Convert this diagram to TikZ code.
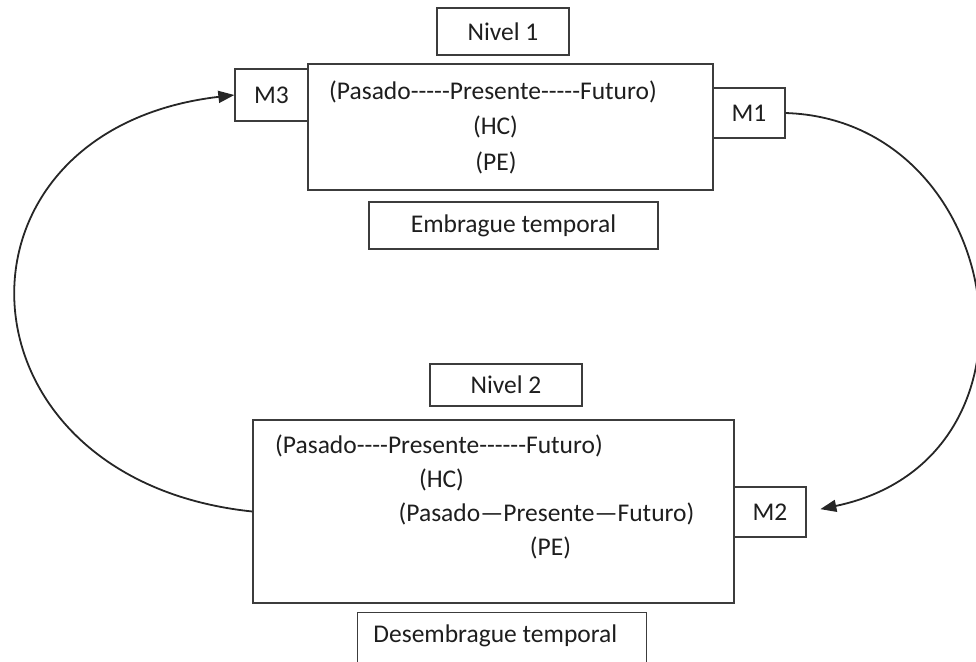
\documentclass[tikz,border=0pt]{standalone}
\usepackage{fontspec}
\setmainfont{Carlito}[Ligatures=TeXOff]
\usetikzlibrary{arrows.meta}
\definecolor{lnegray}{RGB}{60,60,60}
\definecolor{txtgray}{RGB}{30,30,30}

\begin{document}
\begin{tikzpicture}[
  x=0.5pt, y=-0.5pt,
  box/.style={draw=lnegray, line width=0.65pt, inner sep=0pt, align=center,
              font=\fontsize{12.75}{16}\selectfont, text=txtgray},
  txt/.style={inner sep=0pt, font=\fontsize{12.75}{16}\selectfont, text=txtgray},
  arr/.style={-{Triangle[length=8pt, width=6pt]}, line width=0.9pt, color=black!85}
]
  \useasboundingbox (0,0) rectangle (976,661);

  % Nivel 1
  \node[box, minimum width=66pt, minimum height=23.5pt] (niv1) at (503,31.5) {Nivel 1};
  \node[box, minimum width=202.5pt, minimum height=63pt] (lvl1) at (510.5,127) {};
  \node[box, minimum width=36.5pt, minimum height=26pt] (m3) at (271.5,95) {M3};
  \node[box, minimum width=36pt, minimum height=25pt] (m1) at (749,113) {M1};
  \node[box, minimum width=144.5pt, minimum height=23.5pt] (emb) at (513.5,225.5) {Embrague temporal};
  \node[txt] (l1a) at (493,92) {(Pasado-----Presente-----Futuro)};
  \node[txt] (l1b) at (495.5,127) {(HC)};
  \node[txt] (l1c) at (496,163) {(PE)};

  % Nivel 2
  \node[box, minimum width=76pt, minimum height=21pt] (niv2) at (506,385) {Nivel 2};
  \node[box, minimum width=240.5pt, minimum height=91.5pt] (lvl2) at (493.5,511.5) {};
  \node[box, minimum width=36pt, minimum height=25pt] (m2) at (770,512) {M2};
  \node[box, minimum width=144.5pt, minimum height=30pt, anchor=north west] (desemb) at (357,612) {};
  \node[txt] (l2a) at (439,446) {(Pasado----Presente------Futuro)};
  \node[txt] (l2b) at (441.5,480) {(HC)};
  \node[txt] (l2c) at (546.5,514) {(Pasado—Presente—Futuro)};
  \node[txt] (l2d) at (550.5,548) {(PE)};
  \node[txt, anchor=west] (l2e) at (373,636) {Desembrague temporal};

  \draw[arr, shorten >=7pt] (m1.east) .. controls +(220,7) and +(254,-53) .. (m2.east);
  \draw[arr] (lvl2.west) .. controls +(-305,-32) and +(-300,35) .. (m3.west);
\end{tikzpicture}
\end{document}
